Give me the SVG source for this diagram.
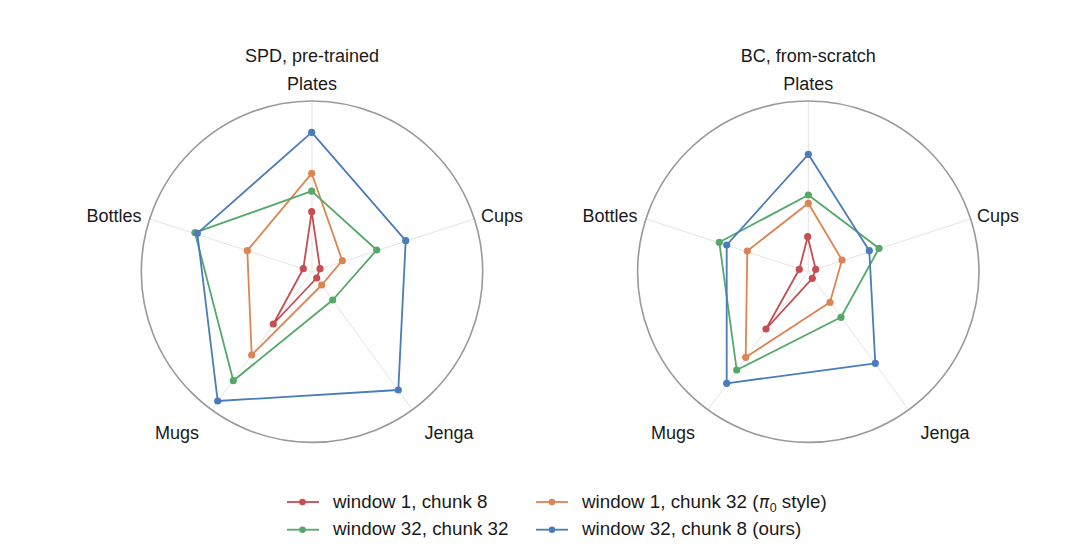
<svg xmlns="http://www.w3.org/2000/svg" width="1080" height="557" viewBox="0 0 1080 557">
<style>
text{font-family:"Liberation Sans",Arial,sans-serif;font-size:18px;fill:#1a1a1a}
.leg text,text.leg{font-size:18.8px}
.mid{text-anchor:middle}
.ring{fill:none;stroke:#999;stroke-width:1.6}
.spoke{stroke:#e3e3e3;stroke-width:1}
.s{fill:none;stroke-width:1.8;stroke-linejoin:round}
.red{stroke:#c44e52}.redf{fill:#c44e52}
.grn{stroke:#55a868}.grnf{fill:#55a868}
.org{stroke:#dd8452}.orgf{fill:#dd8452}
.blu{stroke:#4a7cb9}.bluf{fill:#4a7cb9}
</style>
<rect width="1080" height="557" fill="#fff"/>

<g id="chart-left">
  <text class="mid" x="312" y="62">SPD, pre-trained</text>
  <g id="left-grid">
    <line class="spoke" x1="312" y1="271.7" x2="312" y2="101"/>
    <line class="spoke" x1="312" y1="271.7" x2="474.3" y2="219"/>
    <line class="spoke" x1="312" y1="271.7" x2="412.3" y2="409.8"/>
    <line class="spoke" x1="312" y1="271.7" x2="211.7" y2="409.8"/>
    <line class="spoke" x1="312" y1="271.7" x2="149.7" y2="219"/>
    <circle class="ring" cx="312" cy="271.7" r="170.7"/>
  </g>
  <g id="left-labels">
    <text class="mid" x="312" y="90">Plates</text>
    <text x="481" y="222">Cups</text>
    <text class="mid" x="449" y="439">Jenga</text>
    <text class="mid" x="177" y="439">Mugs</text>
    <text class="mid" x="114" y="222">Bottles</text>
  </g>
  <g id="left-red">
    <polygon class="s red" points="311.7,211.7 320,268.7 316.7,278 273.3,324 303.3,268.7"/>
    <g class="redf"><circle cx="311.7" cy="211.7" r="3.6"/><circle cx="320" cy="268.7" r="3.6"/><circle cx="316.7" cy="278" r="3.6"/><circle cx="273.3" cy="324" r="3.6"/><circle cx="303.3" cy="268.7" r="3.6"/></g>
  </g>
  <g id="left-orange">
    <polygon class="s org" points="311.7,173.3 342.3,260.7 321.7,285 251.7,355 247.3,250.7"/>
    <g class="orgf"><circle cx="311.7" cy="173.3" r="3.6"/><circle cx="342.3" cy="260.7" r="3.6"/><circle cx="321.7" cy="285" r="3.6"/><circle cx="251.7" cy="355" r="3.6"/><circle cx="247.3" cy="250.7" r="3.6"/></g>
  </g>
  <g id="left-green">
    <polygon class="s grn" points="311.7,191.2 376.7,250 332.7,300 233.3,380.7 195,232.7"/>
    <g class="grnf"><circle cx="311.7" cy="191.2" r="3.6"/><circle cx="376.7" cy="250" r="3.6"/><circle cx="332.7" cy="300" r="3.6"/><circle cx="233.3" cy="380.7" r="3.6"/><circle cx="195" cy="232.7" r="3.6"/></g>
  </g>
  <g id="left-blue">
    <polygon class="s blu" points="311.7,132.3 405.7,240.7 398.3,390 217.7,401 197.3,233.3"/>
    <g class="bluf"><circle cx="311.7" cy="132.3" r="3.6"/><circle cx="405.7" cy="240.7" r="3.6"/><circle cx="398.3" cy="390" r="3.6"/><circle cx="217.7" cy="401" r="3.6"/><circle cx="197.3" cy="233.3" r="3.6"/></g>
  </g>
</g>

<g id="chart-right">
  <text class="mid" x="808.3" y="62">BC, from-scratch</text>
  <g id="right-grid">
    <line class="spoke" x1="808.3" y1="271.7" x2="808.3" y2="101"/>
    <line class="spoke" x1="808.3" y1="271.7" x2="970.6" y2="219"/>
    <line class="spoke" x1="808.3" y1="271.7" x2="908.6" y2="409.8"/>
    <line class="spoke" x1="808.3" y1="271.7" x2="708" y2="409.8"/>
    <line class="spoke" x1="808.3" y1="271.7" x2="646" y2="219"/>
    <circle class="ring" cx="808.3" cy="271.7" r="170.7"/>
  </g>
  <g id="right-labels">
    <text class="mid" x="808.3" y="90">Plates</text>
    <text x="977" y="222">Cups</text>
    <text class="mid" x="945" y="439">Jenga</text>
    <text class="mid" x="673" y="439">Mugs</text>
    <text class="mid" x="610" y="222">Bottles</text>
  </g>
  <g id="right-red">
    <polygon class="s red" points="807.7,236.7 815.7,269.3 812.3,278.3 766,329 799.3,269.3"/>
    <g class="redf"><circle cx="807.7" cy="236.7" r="3.6"/><circle cx="815.7" cy="269.3" r="3.6"/><circle cx="812.3" cy="278.3" r="3.6"/><circle cx="766" cy="329" r="3.6"/><circle cx="799.3" cy="269.3" r="3.6"/></g>
  </g>
  <g id="right-orange">
    <polygon class="s org" points="808.3,203.3 842,260 830,302.3 745.7,357.3 747.3,251"/>
    <g class="orgf"><circle cx="808.3" cy="203.3" r="3.6"/><circle cx="842" cy="260" r="3.6"/><circle cx="830" cy="302.3" r="3.6"/><circle cx="745.7" cy="357.3" r="3.6"/><circle cx="747.3" cy="251" r="3.6"/></g>
  </g>
  <g id="right-green">
    <polygon class="s grn" points="808.3,195 879,248.3 841,317.3 736.7,370 719.3,242.3"/>
    <g class="grnf"><circle cx="808.3" cy="195" r="3.6"/><circle cx="879" cy="248.3" r="3.6"/><circle cx="841" cy="317.3" r="3.6"/><circle cx="736.7" cy="370" r="3.6"/><circle cx="719.3" cy="242.3" r="3.6"/></g>
  </g>
  <g id="right-blue">
    <polygon class="s blu" points="808.3,154.3 869.3,250.7 875.3,363.3 726.7,383.3 726.7,245"/>
    <g class="bluf"><circle cx="808.3" cy="154.3" r="3.6"/><circle cx="869.3" cy="250.7" r="3.6"/><circle cx="875.3" cy="363.3" r="3.6"/><circle cx="726.7" cy="383.3" r="3.6"/><circle cx="726.7" cy="245" r="3.6"/></g>
  </g>
</g>

<g id="legend" class="leg">
  <g id="leg-red">
    <line class="s red" x1="287" y1="502" x2="319" y2="502"/><circle class="redf" cx="302.5" cy="502" r="3.3"/>
    <text x="333" y="507.5">window 1, chunk 8</text>
  </g>
  <g id="leg-orange">
    <line class="s org" x1="536" y1="502" x2="568" y2="502"/><circle class="orgf" cx="552" cy="502" r="3.3"/>
    <text x="582" y="507.5">window 1, chunk 32 (<tspan dx="0.5" font-family="DejaVu Sans, sans-serif" font-style="italic" font-size="17">π</tspan><tspan font-size="12.5" dx="0.5" dy="4">0</tspan><tspan dy="-4"> style)</tspan></text>
  </g>
  <g id="leg-green">
    <line class="s grn" x1="287" y1="529.7" x2="319" y2="529.7"/><circle class="grnf" cx="302.5" cy="529.7" r="3.3"/>
    <text x="333" y="535">window 32, chunk 32</text>
  </g>
  <g id="leg-blue">
    <line class="s blu" x1="536" y1="529.7" x2="568" y2="529.7"/><circle class="bluf" cx="552" cy="529.7" r="3.3"/>
    <text x="582" y="535">window 32, chunk 8 (ours)</text>
  </g>
</g>
</svg>
